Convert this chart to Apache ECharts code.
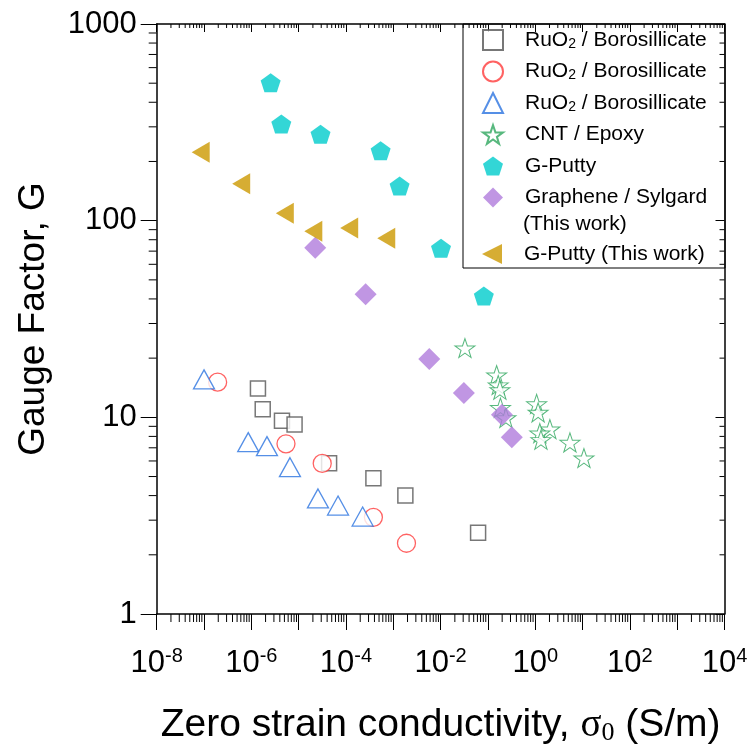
<!DOCTYPE html>
<html><head><meta charset="utf-8">
<script src="https://cdn.jsdelivr.net/npm/echarts@6/dist/echarts.min.js"></script>
<style>html,body{margin:0;padding:0;background:#fff}#c{width:755px;height:754px}</style>
</head><body><div id="c"></div>
<script>
// ---- data ----
const sqX = [1.38e-6, 1.74e-6, 4.44e-6, 8.2e-6, 4.4e-5, 3.8e-4, 1.8e-3, 0.062];
const sqY = [14.0, 11.0, 9.6, 9.2, 5.85, 4.9, 4.0, 2.59];
const circX = [1.94e-7, 5.4e-6, 3.15e-5, 3.8e-4, 1.9e-3];
const circY = [15.1, 7.33, 5.83, 3.10, 2.29];
const triX = [1.0e-7, 8.6e-7, 2.14e-6, 6.55e-6, 2.56e-5, 6.8e-5, 2.25e-4];
const triY = [15.6, 7.48, 7.14, 5.58, 3.87, 3.56, 3.13];
const cntX = [0.0327, 0.153, 0.165, 0.179, 0.184, 0.240, 1.07, 1.15, 2.04, 1.25, 1.32, 5.41, 10.7];
const cntY = [22.5, 16.4, 14.6, 13.8, 11.2, 9.94, 11.7, 10.6, 8.71, 8.31, 7.69, 7.45, 6.21];
const gpX = [2.56e-6, 4.3e-6, 2.9e-5, 5.4e-4, 1.36e-3, 0.0102, 0.082];
const gpY = [503, 310, 275, 227, 150, 72.4, 41.4];
const grX = [2.24e-5, 2.6e-4, 5.75e-3, 0.031, 0.198, 0.32];
const grY = [72.9, 42.3, 19.8, 13.3, 10.3, 7.93];
const gtX = [8.5e-8, 6.1e-7, 5.1e-6, 2.04e-5, 1.17e-4, 7.1e-4];
const gtY = [223, 154, 109, 88.3, 91.8, 81.4];

const seriesNames = ['RuO2 / Borosillicate #a', 'RuO2 / Borosillicate #b', 'RuO2 / Borosillicate #c',
  'CNT / Epoxy', 'G-Putty', 'Graphene / Sylgard', 'G-Putty (This work)'];
const xMajorExponents = [-8, -7, -6, -5, -4, -3, -2, -1, 0, 1, 2, 3, 4];
const xLabelExponents = [-8, -6, -4, -2, 0, 2, 4];
const yTickLabels = ['1', '10', '100', '1000'];
const xTitle = 'Zero strain conductivity, ';
const yTitle = 'Gauge Factor, G';

// ---- helpers ----
const zip = (a, b) => a.map((v, i) => [v, b[i]]);
const FONT = 'Liberation Sans, Arial, sans-serif';
const STAR = 'path://M50,0 L61.8,35.1 L98.1,35.1 L68.8,56.7 L79.4,90.5 L50,69.3 L20.6,90.5 L31.2,56.7 L1.9,35.1 L38.2,35.1 Z';
const PENT = 'path://M50,0 L97.6,34.5 L79.4,90.5 L20.6,90.5 L2.4,34.5 Z';
const LTRI = 'path://M0,50 L100,0 L100,100 Z';
const pow10 = e => Number('1e' + e);

// minor tick positions (axis decoration, 2..9 per decade)
const minorX = [], minorY = [];
for (let e = -8; e < 4; e++) for (let m = 2; m <= 9; m++) minorX.push(m * pow10(e));
for (let e = 0; e < 3; e++) for (let m = 2; m <= 9; m++) minorY.push(m * pow10(e));

function minorSeries(vals, isX) {
  return {
    type: 'custom', silent: true, clip: false, z: 1, legendHoverLink: false,
    data: vals.map(v => isX ? [v, 1] : [1e-8, v]),
    renderItem: function (params, api) {
      const cs = params.coordSys;
      const st = { stroke: '#000', lineWidth: 1 };
      if (isX) {
        const x = api.coord([api.value(0), 1])[0];
        const b = cs.y + cs.height, t = cs.y;
        return { type: 'group', children: [
          { type: 'line', shape: { x1: x, y1: b, x2: x, y2: b + 8 }, style: st },
          { type: 'line', shape: { x1: x, y1: t, x2: x, y2: t + 4 }, style: st }
        ]};
      } else {
        const y = api.coord([1e-8, api.value(1)])[1];
        const l = cs.x, r = cs.x + cs.width;
        return { type: 'group', children: [
          { type: 'line', shape: { x1: l - 8, y1: y, x2: l, y2: y }, style: st },
          { type: 'line', shape: { x1: r - 5, y1: y, x2: r, y2: y }, style: st }
        ]};
      }
    }
  };
}

const chart = echarts.init(document.getElementById('c'), null, { renderer: 'canvas' });

const axisLine = { show: true, lineStyle: { color: '#000', width: 1.5 } };
const LF = 21;
const legendRich = {
  sp: { width: 17 },
  n: { fontSize: LF, fontFamily: FONT, color: '#000' },
  s: { fontSize: 14, fontFamily: FONT, color: '#000', verticalAlign: 'bottom', padding: [11, 0, 0, 0] }
};
function legendFmt(name) {
  if (name.indexOf('RuO2') === 0) return '{sp|}{n|RuO}{s|2}{n| / Borosillicate}';
  return '{sp|}{n|' + name + '}';
}

const option = {
  animation: false,
  backgroundColor: '#fff',
  grid: { left: 156.7, right: 30.5, top: 24, bottom: 140, containLabel: false },
  xAxis: [
    {
      type: 'log', logBase: 10, min: 1e-8, max: 1e4, splitNumber: 12, position: 'bottom',
      axisLine: axisLine,
      axisTick: { show: true, inside: false, length: 16, customValues: xMajorExponents.map(pow10), lineStyle: { color: '#000', width: 1 } },
      splitLine: { show: false },
      axisLabel: {
        margin: 32, color: '#000', fontFamily: FONT, fontSize: 30, hideOverlap: false,
        customValues: xLabelExponents.map(pow10),
        formatter: function (v) {
          const e = Math.round(Math.log10(v));
          return xLabelExponents.indexOf(e) >= 0 ? '{b|10}{p|' + e + '}' : '';
        },
        rich: {
          b: { fontSize: 31, fontFamily: FONT, color: '#000', lineHeight: 34 },
          p: { fontSize: 20, fontFamily: FONT, color: '#000', verticalAlign: 'top', lineHeight: 22 }
        }
      },
      name: xTitle + '{g|σ}{s|0}{n| (S/m)}',
      nameLocation: 'middle', nameGap: 91,
      nameTextStyle: {
        fontSize: 39, fontFamily: FONT, color: '#000',
        rich: {
          n: { fontSize: 39, fontFamily: FONT, color: '#000' },
          g: { fontSize: 39, fontFamily: 'Liberation Serif, serif', color: '#000' },
          s: { fontSize: 26, fontFamily: 'Liberation Serif, serif', color: '#000', verticalAlign: 'bottom', padding: [15, 0, 0, 0] }
        }
      }
    },
    {
      type: 'log', logBase: 10, min: 1e-8, max: 1e4, splitNumber: 12, position: 'top',
      axisLine: axisLine,
      axisTick: { show: true, inside: true, length: 8, customValues: xMajorExponents.map(pow10), lineStyle: { color: '#000', width: 1 } },
      axisLabel: { show: false }, splitLine: { show: false }
    }
  ],
  yAxis: [
    {
      type: 'log', logBase: 10, min: 1, max: 1000, splitNumber: 3, position: 'left',
      axisLine: axisLine,
      axisTick: { show: true, inside: false, length: 16, lineStyle: { color: '#000', width: 1 } },
      splitLine: { show: false },
      axisLabel: {
        margin: 20, color: '#000', fontFamily: FONT, fontSize: 31,
        formatter: function (v) { return yTickLabels[Math.round(Math.log10(v))]; }
      },
      name: yTitle, nameLocation: 'middle', nameGap: 104, nameRotate: 90,
      nameTextStyle: { fontSize: 37, fontFamily: FONT, color: '#000' }
    },
    {
      type: 'log', logBase: 10, min: 1, max: 1000, splitNumber: 3, position: 'right',
      axisLine: axisLine,
      axisTick: { show: true, inside: true, length: 9, lineStyle: { color: '#000', width: 1 } },
      axisLabel: { show: false }, splitLine: { show: false }
    }
  ],
  legend: [
    {
      data: seriesNames.slice(0, 6), orient: 'vertical', left: 482, top: 29, padding: 0,
      itemWidth: 20, itemHeight: 20, itemGap: 9.5, selectedMode: false,
      formatter: legendFmt,
      textStyle: { fontSize: LF, fontFamily: FONT, color: '#000', lineHeight: 22, rich: legendRich }
    },
    {
      data: seriesNames.slice(6), orient: 'vertical', left: 482, top: 243, padding: 0,
      itemWidth: 20, itemHeight: 20, itemGap: 9.5, selectedMode: false,
      formatter: legendFmt,
      textStyle: { fontSize: LF, fontFamily: FONT, color: '#000', lineHeight: 22, rich: legendRich }
    }
  ],
  graphic: [
    { type: 'rect', shape: { x: 463, y: 24, width: 262, height: 244 }, style: { fill: 'none', stroke: '#000', lineWidth: 1 }, z: 10 },
    { type: 'text', left: 523, top: 214, style: { text: '(This work)', font: LF + 'px ' + FONT, fill: '#000' }, z: 10 }
  ],
  series: [
    minorSeries(minorX, true),
    minorSeries(minorY, false),
    { name: seriesNames[0], type: 'scatter', data: zip(sqX, sqY), symbol: 'rect', symbolSize: 15,
      itemStyle: { color: '#fff', borderColor: '#555', borderWidth: 1.5 }, z: 3 },
    { name: seriesNames[1], type: 'scatter', data: zip(circX, circY), symbol: 'circle', symbolSize: 18,
      itemStyle: { color: '#fff', borderColor: '#ff3b3b', borderWidth: 1.3 }, z: 3 },
    { name: seriesNames[2], type: 'scatter', data: zip(triX, triY), symbol: 'triangle', symbolSize: [21, 19],
      itemStyle: { color: '#fff', borderColor: '#2a73e0', borderWidth: 1.3 }, z: 3 },
    { name: seriesNames[3], type: 'scatter', data: zip(cntX, cntY), symbol: STAR, symbolSize: [20, 19],
      itemStyle: { color: '#fff', borderColor: '#2ea65e', borderWidth: 1 }, z: 3 },
    { name: seriesNames[4], type: 'scatter', data: zip(gpX, gpY), symbol: PENT, symbolSize: [20, 19],
      itemStyle: { color: '#00cccc' }, z: 3 },
    { name: seriesNames[5], type: 'scatter', data: zip(grX, grY), symbol: 'diamond', symbolSize: 22,
      itemStyle: { color: '#b07cdc' }, z: 3 },
    { name: seriesNames[6], type: 'scatter', data: zip(gtX, gtY), symbol: LTRI, symbolSize: [18, 21],
      itemStyle: { color: '#cc9900' }, z: 3 }
  ]
};
chart.setOption(option);
</script></body></html>
